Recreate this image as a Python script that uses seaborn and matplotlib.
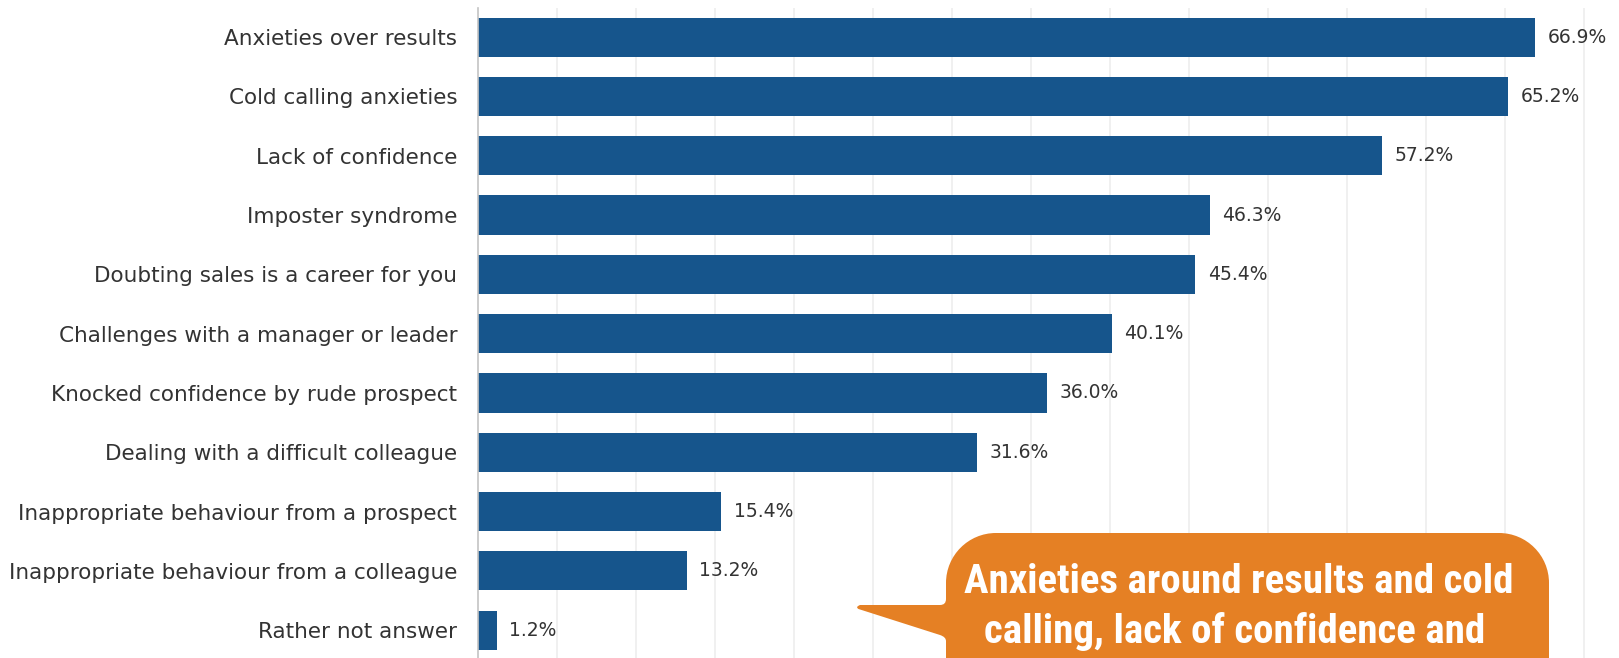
import matplotlib
matplotlib.use("Agg")
import matplotlib.pyplot as plt
import seaborn as sns
import pandas as pd
from matplotlib.path import Path
from matplotlib.patches import PathPatch

categories = [
    "Anxieties over results",
    "Cold calling anxieties",
    "Lack of confidence",
    "Imposter syndrome",
    "Doubting sales is a career for you",
    "Challenges with a manager or leader",
    "Knocked confidence by rude prospect",
    "Dealing with a difficult colleague",
    "Inappropriate behaviour from a prospect",
    "Inappropriate behaviour from a colleague",
    "Rather not answer",
]
values = [66.9, 65.2, 57.2, 46.3, 45.4, 40.1, 36.0, 31.6, 15.4, 13.2, 1.2]
value_labels = [f"{v:.1f}%" for v in values]
grid_ticks = list(range(5, 75, 5))
callout_lines = ["Anxieties around results and cold", "calling, lack of confidence and"]

BAR = "#16558c"
ORANGE = "#e58024"
TEXT = "#333333"

sns.set_theme(style="white")
plt.rcParams["font.family"] = ["DejaVu Sans"]

fig = plt.figure(figsize=(16.19, 6.58), dpi=100)
fig.patch.set_facecolor("white")
ax = fig.add_axes([0.29524, -0.0027, 0.70266, 0.9913])

df = pd.DataFrame({"reason": categories, "pct": values})
sns.barplot(data=df, y="reason", x="pct", order=categories, orient="h",
            color=BAR, saturation=1, width=0.66, linewidth=0, ax=ax)

ax.set_xlim(0, 72)
ax.set_ylim(10.5, -0.5)
ax.set_xticks(grid_ticks)
ax.grid(axis="x", color="#ededed", linewidth=1.2)
ax.grid(axis="y", visible=False)
ax.set_axisbelow(True)
ax.tick_params(axis="x", length=0, labelbottom=False)
ax.tick_params(axis="y", length=0, pad=15, labelsize=15.5, labelcolor=TEXT)
ax.set_xlabel("")
ax.set_ylabel("")
for s in ["top", "right", "bottom"]:
    ax.spines[s].set_visible(False)
ax.spines["left"].set_color("#c4c4c4")
ax.spines["left"].set_linewidth(1.2)

ax.bar_label(ax.containers[0], labels=value_labels, padding=9,
             fontsize=13.5, color=TEXT)

# callout bubble (figure inches, origin bottom-left)
L, R, T, B, r = 9.46, 15.49, 1.25, -1.0, 0.50
k = 0.5523
verts = [
    (L + r, T),
    (R - r, T),
    (R - r + k * r, T), (R, T - r + k * r), (R, T - r),
    (R, B),
    (L, B),
    (L, 0.17),
    (L, 0.21), (9.40, 0.23),
    (8.585, 0.49),
    (8.55, 0.51), (8.60, 0.53),
    (9.40, 0.53),
    (L, 0.53), (L, 0.59),
    (L, T - r),
    (L, T - r + k * r), (L + r - k * r, T), (L + r, T),
    (L + r, T),
]
codes = [
    Path.MOVETO,
    Path.LINETO,
    Path.CURVE4, Path.CURVE4, Path.CURVE4,
    Path.LINETO,
    Path.LINETO,
    Path.LINETO,
    Path.CURVE3, Path.CURVE3,
    Path.LINETO,
    Path.CURVE3, Path.CURVE3,
    Path.LINETO,
    Path.CURVE3, Path.CURVE3,
    Path.LINETO,
    Path.CURVE4, Path.CURVE4, Path.CURVE4,
    Path.CLOSEPOLY,
]
bubble = PathPatch(Path(verts, codes), fc=ORANGE, ec="none",
                   transform=fig.dpi_scale_trans)
fig.add_artist(bubble)

cfont = dict(family=["Roboto Condensed", "Open Sans Condensed", "DejaVu Sans"],
             stretch="condensed", weight="bold",
             size=29.5, color="white", ha="center", va="baseline",
             transform=fig.dpi_scale_trans)
fig.text(12.385, 0.65, callout_lines[0], **cfont)
fig.text(12.345, 0.15, callout_lines[1], **cfont)

fig.savefig("out.png", dpi=100)
